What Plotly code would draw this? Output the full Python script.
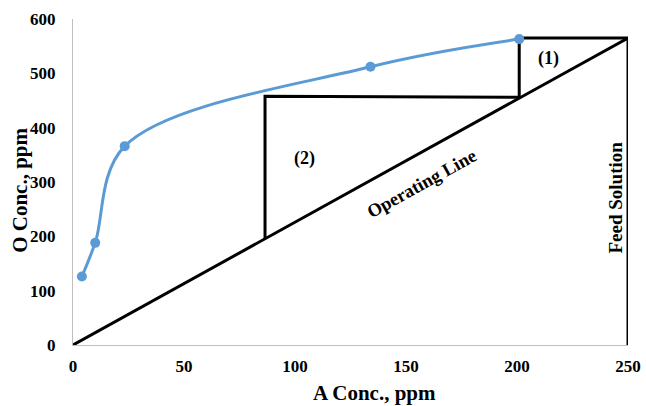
import plotly.graph_objects as go

# Equilibrium curve
eq_x = [4, 10, 23.3, 134, 201]
eq_y = [126, 188, 366, 512, 563]

# Operating line
op_x = [0, 250]
op_y = [0, 565]

# Feed solution line
feed_x = [250, 250]
feed_y = [0, 565]

# Stage construction (steps)
stage_x = [250, 201, 201, 86.5, 86.5]
stage_y = [565, 565, 456, 458, 195]

x_ticks = [0, 50, 100, 150, 200, 250]
y_ticks = [0, 100, 200, 300, 400, 500, 600]

FONT = "Liberation Serif"
BLACK = "#000000"
BLUE = "#5B9BD5"

fig = go.Figure()
fig.add_trace(go.Scatter(x=op_x, y=op_y, mode="lines",
                         line=dict(color=BLACK, width=3), hoverinfo="skip"))
fig.add_trace(go.Scatter(x=feed_x, y=feed_y, mode="lines",
                         line=dict(color=BLACK, width=3), hoverinfo="skip"))
fig.add_trace(go.Scatter(x=stage_x, y=stage_y, mode="lines",
                         line=dict(color=BLACK, width=3), hoverinfo="skip"))
fig.add_trace(go.Scatter(x=eq_x, y=eq_y, mode="lines+markers",
                         line=dict(color=BLUE, width=3, shape="spline", smoothing=1.0),
                         marker=dict(color=BLUE, size=10)))

def bfont(size):
    return dict(family=FONT, size=size, color=BLACK, weight="bold")

fig.add_annotation(x=214, y=528, text="(1)", showarrow=False, font=bfont(18))
fig.add_annotation(x=104.5, y=344, text="(2)", showarrow=False, font=bfont(18))
fig.add_annotation(x=157, y=296, text="Operating Line", showarrow=False,
                   textangle=-29, font=bfont(18.5))
fig.add_annotation(x=244.3, y=272, text="Feed Solution", showarrow=False,
                   textangle=-90, font=bfont(19))

# Axis titles
fig.add_annotation(xref="paper", yref="paper", x=0.544, y=-0.147, text="A Conc., ppm",
                   showarrow=False, xanchor="center", yanchor="middle", font=bfont(21))
fig.add_annotation(xref="paper", yref="paper", x=-0.096, y=0.475, text="O Conc., ppm",
                   showarrow=False, xanchor="center", yanchor="middle", textangle=-90,
                   font=bfont(21))

fig.update_layout(
    width=646, height=406,
    margin=dict(l=73, r=18, t=19, b=61),
    paper_bgcolor="white", plot_bgcolor="white",
    showlegend=False,
    font=dict(family=FONT, color=BLACK),
    xaxis=dict(range=[0, 250], tickvals=x_ticks, showgrid=False, zeroline=False,
               showline=True, linecolor="#BFBFBF", linewidth=1, automargin=False,
               ticks="outside", ticklen=6, tickcolor="rgba(0,0,0,0)",
               tickfont=bfont(17)),
    yaxis=dict(range=[0, 600], tickvals=y_ticks, showgrid=False, zeroline=False,
               showline=True, linecolor="#BFBFBF", linewidth=1, automargin=False,
               ticks="outside", ticklen=13, tickcolor="rgba(0,0,0,0)",
               tickfont=bfont(17)),
)

# remove the browser's default 8px body margin so the figure fills the window
fig.write_html("out.html", config={"displayModeBar": False},
               post_script="document.body.style.margin='0';")
